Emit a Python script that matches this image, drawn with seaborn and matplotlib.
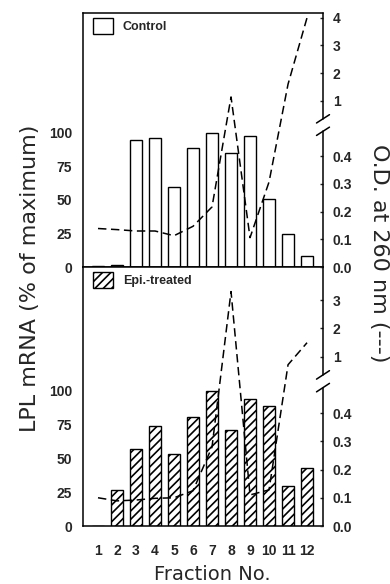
import matplotlib

matplotlib.use("Agg")

import matplotlib.pyplot as plt
import matplotlib.transforms as mtransforms
import numpy as np
import pandas as pd
import seaborn as sns
from matplotlib.patches import Patch

# values
fractions = list(range(1, 13))
control_mrna = [1, 1.5, 95, 96, 59.5, 89, 100, 85, 98, 51, 24.6, 8]
treated_mrna = [0, 26.6, 57, 74, 53.4, 80.8, 100, 71, 94, 89, 29.5, 43]
control_od = [0.139, 0.135, 0.13, 0.13, 0.113, 0.147, 0.217, 1.14, 0.106, 0.307, 1.6, 4.0]
treated_od = [0.1, 0.089, 0.092, 0.098, 0.1, 0.125, 0.28, 3.3, 0.11, 0.128, 0.71, 1.49]
mrna_ticks = [0, 25, 50, 75, 100]
od_low_ticks = [0.0, 0.1, 0.2, 0.3, 0.4]
control_high_ticks = [1, 2, 3, 4]
treated_high_ticks = [1, 2, 3]

sns.set_style("white")
plt.rcParams["font.family"] = ["DejaVu Sans"]
plt.rcParams["hatch.linewidth"] = 1.2

TICK_FONT = dict(family="Liberation Sans", weight="bold", size=10)
BREAK_LO, BREAK_HI = 4.9, 5.35
POS_MAX = 9.17


def od_to_pos(v):
    """Broken O.D. axis: 0-0.5 stretched x10, above the break 1 unit per step."""
    v = np.asarray(v, dtype=float)
    return np.where(v <= 0.5, v * 10, 5 + v)


def draw_panel(ax, mrna, od, high_ticks, label, hatch, mrna_top, show_x):
    df = pd.DataFrame({"fraction": fractions, "mrna": mrna})
    sns.barplot(
        data=df, x="fraction", y="mrna", native_scale=True, width=0.67,
        color="white", saturation=1, edgecolor="black", linewidth=1.0,
        hatch=hatch, ax=ax,
    )
    ax.set_xlim(0.21, 12.84)
    ax.set_ylim(0, mrna_top)
    ax.set_yticks(mrna_ticks)
    ax.set_yticklabels([str(t) for t in mrna_ticks], fontdict=TICK_FONT)
    ax.tick_params(axis="y", length=0, pad=8)
    ax.set_xticks(fractions)
    if show_x:
        ax.set_xticklabels([str(f) for f in fractions], fontdict=TICK_FONT)
        ax.tick_params(axis="x", length=0, pad=13)
    else:
        ax.set_xticklabels([])
        ax.tick_params(axis="x", length=0)
    ax.set_xlabel("")
    ax.set_ylabel("")
    ax.spines["right"].set_visible(False)
    for side in ("left", "top", "bottom"):
        ax.spines[side].set_linewidth(1.1)
        ax.spines[side].set_color("black")

    ax2 = ax.twinx()
    sns.lineplot(
        x=fractions, y=od_to_pos(od), ax=ax2, color="black",
        linewidth=1.1, linestyle=(0, (5.5, 3)),
    )
    ax2.set_ylim(0, POS_MAX)
    ticks = list(od_to_pos(od_low_ticks)) + list(od_to_pos(high_ticks))
    labels = [f"{t:.1f}" for t in od_low_ticks] + [str(t) for t in high_ticks]
    ax2.set_yticks(ticks)
    ax2.set_yticklabels(labels, fontdict=TICK_FONT)
    ax2.tick_params(axis="y", direction="in", length=2.5, width=1, pad=7)
    ax2.set_ylabel("")
    for side in ax2.spines:
        ax2.spines[side].set_visible(False)

    # right spine with a break
    trans = mtransforms.blended_transform_factory(ax2.transAxes, ax2.transData)
    kw = dict(transform=trans, color="black", lw=1.1, clip_on=False)
    ax2.plot([1, 1], [0, BREAK_LO], **kw)
    ax2.plot([1, 1], [BREAK_HI, POS_MAX], **kw)
    for y in (BREAK_LO, BREAK_HI):
        ax2.plot([1 - 0.027, 1 + 0.027], [y - 0.15, y + 0.15], **kw)

    handle = Patch(facecolor="white", edgecolor="black", hatch=hatch,
                   linewidth=1.0, label=label)
    ax2.legend(
        handles=[handle], loc="upper left", bbox_to_anchor=(10 / 240, 1 - 5 / 254),
        frameon=False, borderpad=0, borderaxespad=0, handlelength=1.6,
        handleheight=1.6, handletextpad=0.8,
        prop=dict(family="Liberation Sans", weight="bold", size=9),
    )


fig = plt.figure(figsize=(3.9, 5.84), dpi=100)
ax_top = fig.add_axes([0.2128, 0.5428, 0.6154, 0.4349])
ax_bot = fig.add_axes([0.2128, 0.0993, 0.6154, 0.4435])

draw_panel(ax_top, control_mrna, control_od, control_high_ticks,
           "Control", None, 189.5, False)
draw_panel(ax_bot, treated_mrna, treated_od, treated_high_ticks,
           "Epi.-treated", "////", 191.4, True)

fig.text(0.077, 0.524, "LPL mRNA (% of maximum)", rotation=90,
         ha="center", va="center", fontsize=16)
fig.text(0.972, 0.567, "O.D. at 260 nm (---)", rotation=270,
         ha="center", va="center", fontsize=16)
fig.text(0.544, 0.017, "Fraction No.", ha="center", va="center", fontsize=14)

fig.savefig("out.png", dpi=100)
